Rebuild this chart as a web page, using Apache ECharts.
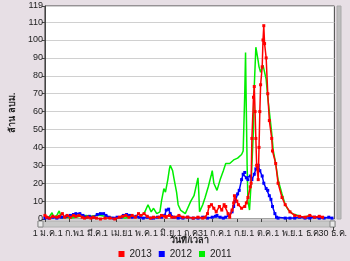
<!DOCTYPE html>
<html><head><meta charset="utf-8">
<script src="https://cdn.jsdelivr.net/npm/echarts@6/dist/echarts.min.js"></script>
<style>html,body{margin:0;padding:0;background:#e7dfe5;}#c{width:350px;height:261px;}</style>
</head><body><div id="c"></div>
<script>
const tickDays = [0,31,59,90,120,151,181,211,243,273,304,334];
const tickLabels = ['1 ม.ค.','1 ก.พ.','1 มี.ค.','1 เม.ย.','1 พ.ค.','1 มิ.ย.','1 ก.ค.','31 ก.ค.','1 ก.ย.','1 ต.ค.','1 พ.ย.','1 ธ.ค.'];
const lastTickDays = [363];
const lastTickLabels = ['30 ธ.ค.'];
const yTicks = [0,10,20,30,40,50,60,70,80,90,100,110,119];

const days2011 = [0,5,9,11,15,18,21,27,33,39,45,52,58,64,70,76,82,88,94,101,107,113,119,125,130,134,137,141,145,147,150,152,155,157,158,161,163,166,168,171,173,177,180,184,188,190,193,194,195,199,202,206,210,211,213,217,221,225,228,233,238,243,248,250,252,253,254,255,256,258,260,263,264,266,269,270,272,275,276,279,281,283,286,288,291,294,299,303,307,312,319,325,331,337];
const vals2011 = [0.5,1,3.5,1,2,4.5,0.5,1,0.5,1,1.5,2,1.5,2,2,1.5,1,0.5,1,0.5,1,1.5,1,3,8,4,6,3,4,10,17,15,22,28,30,27,22,15,8,5,4,3,6,10,13,17,23,15,4,8,12,18,25,27,20,16,22,27,31,31,33,34,36,38,70,93,60,30,10,5,20,50,74,96,88,85,82,86,87,78,68,60,48,38,31,22,14,8,5,3,2,1,1.5,1];

const days2012 = [0,5,10,15,21,27,32,36,39,44,48,52,56,61,66,70,74,77,81,86,91,96,99,103,107,110,115,119,124,129,134,137,142,147,151,153,156,158,162,168,174,180,187,193,199,205,211,215,217,221,225,228,232,236,238,240,243,245,248,250,252,254,256,259,261,264,266,269,271,274,276,279,281,283,285,287,290,292,294,303,309,315,321,328,334,340,346,352,358,362];
const vals2012 = [0.5,0.5,1,0.5,1,1.5,2,2.5,3,3,2,1,1.5,1,2.5,3,3,2,1,0.5,1,1,2,2.5,2,1,1.5,1,0.5,1,0.5,0.5,1,1,2,5,5.5,3,1,0.5,0.5,1,0.5,0.5,1,0.5,1,1.5,2,1,0.5,1,2,4,7,10,14,16,22,25,26,23,22,24,22,25,28,30,27,24,20,17,16,13,11,7,3,1,0.5,0.5,0.5,0.5,1,0.5,0.5,1,0.5,0.5,1,0.5];

const days2013 = [0,2,6,10,15,18,22,25,28,32,36,39,43,47,50,54,58,61,65,70,76,82,88,94,98,102,106,110,114,118,121,125,129,133,137,144,147,151,153,157,160,164,169,174,180,187,193,199,202,205,207,210,213,216,220,223,226,228,231,233,236,238,239,242,244,248,252,254,256,259,260,261,263,264,265,266,267,269,270,271,272,274,275,276,277,279,281,283,286,287,291,294,299,303,309,315,321,328,334,340,346,350];
const vals2013 = [2,1,0.5,1.5,1,1.5,3,1,2,1,2,1.5,2,1,0.5,1,0.5,1,0.5,0,0.5,0.5,0,1,1.5,2,1,2,1,3,2,3,1.5,0.5,1,1,2,1.5,1,2,1,1,2,1,1,0.5,1,0.5,1,3,7,8,6,4,7,5,8,7,3,1,5,9,13,10,8,6,7,9,12,18,20,45,68,74,60,45,30,22,40,60,75,85,100,108,98,90,70,55,45,38,31,20,12,8,4,2,1.5,1,2,1,1.5,1];

const zip = (d, v) => d.map((x, i) => [x, v[i]]);
const font = 'Liberation Sans, Arial, sans-serif';
const labelStyle = {fontSize: 9, color: '#222', margin: 2, fontFamily: font, hideOverlap: false, showMinLabel: true, showMaxLabel: true};
const chart = echarts.init(document.getElementById('c'), null, {renderer: 'canvas'});
chart.setOption({
  animation: false,
  backgroundColor: '#e7dfe5',
  grid: {left: 38, right: 15, top: 6, bottom: 42, show: true, backgroundColor: '#ffffff', borderColor: '#444', borderWidth: 1},
  legend: {
    top: 249, left: 'center', icon: 'rect', itemWidth: 6, itemHeight: 6, itemGap: 7, padding: 0,
    data: ['2013','2012','2011'],
    textStyle: {fontSize: 10, fontFamily: font, color: '#222'}
  },
  xAxis: [{
    type: 'value', min: 0, max: 365, offset: 8, position: 'bottom',
    name: 'วันที่/เวลา', nameLocation: 'middle', nameGap: 14, nameMoveOverlap: false,
    nameTextStyle: {fontSize: 9, fontWeight: 'bold', color: '#222', fontFamily: font, verticalAlign: 'middle'},
    axisLine: {show: false},
    axisTick: {show: true, length: 3, customValues: tickDays, lineStyle: {color: '#444'}},
    axisLabel: Object.assign({customValues: tickDays, formatter: v => tickLabels[tickDays.indexOf(v)]}, labelStyle),
    splitLine: {show: false}
  }, {
    type: 'value', min: 0, max: 365, offset: 8, position: 'bottom',
    axisLine: {show: false},
    axisTick: {show: true, length: 3, customValues: lastTickDays, lineStyle: {color: '#444'}},
    axisLabel: Object.assign({customValues: lastTickDays, formatter: v => lastTickLabels[lastTickDays.indexOf(v)]}, labelStyle),
    splitLine: {show: false}
  }],
  yAxis: {
    type: 'value', min: 0, max: 119,
    name: 'ล้าน ลบม.', nameLocation: 'middle', nameGap: 24, nameRotate: 90,
    nameTextStyle: {fontSize: 9, fontWeight: 'bold', color: '#222', fontFamily: font},
    axisLine: {show: true, lineStyle: {color: '#444'}},
    axisTick: {show: true, length: 3, customValues: yTicks, lineStyle: {color: '#444'}},
    axisLabel: {customValues: yTicks, fontSize: 9, color: '#222', margin: 2, fontFamily: font},
    splitLine: {show: true, lineStyle: {color: '#d0d0d0', width: 1}}
  },
  graphic: [
    {type: 'rect', shape: {x: 38, y: 221, width: 297, height: 6}, style: {fill: '#c9c9c9', stroke: '#b0b0b0'}},
    {type: 'rect', shape: {x: 38, y: 221, width: 5, height: 6}, style: {fill: '#e8e8e8', stroke: '#888'}},
    {type: 'rect', shape: {x: 330, y: 221, width: 5, height: 6}, style: {fill: '#e8e8e8', stroke: '#888'}},
    {type: 'rect', shape: {x: 337, y: 6, width: 4, height: 213}, style: {fill: '#bdbdbd', stroke: '#aaa'}}
  ],
  series: [
    {name: '2011', type: 'line', data: zip(days2011, vals2011), showSymbol: false, symbol: 'rect', color: '#00ee00',
      lineStyle: {width: 1.5, color: '#00ee00'}, z: 2},
    {name: '2012', type: 'line', data: zip(days2012, vals2012), symbol: 'rect', symbolSize: 3, color: '#0000ff',
      itemStyle: {color: '#0000ff'}, lineStyle: {width: 1.5, color: '#0000ff'}, z: 3},
    {name: '2013', type: 'line', data: zip(days2013, vals2013), symbol: 'rect', symbolSize: 3, color: '#ff0000',
      itemStyle: {color: '#ff0000'}, lineStyle: {width: 1.5, color: '#ff0000'}, z: 4}
  ]
});
</script></body></html>
